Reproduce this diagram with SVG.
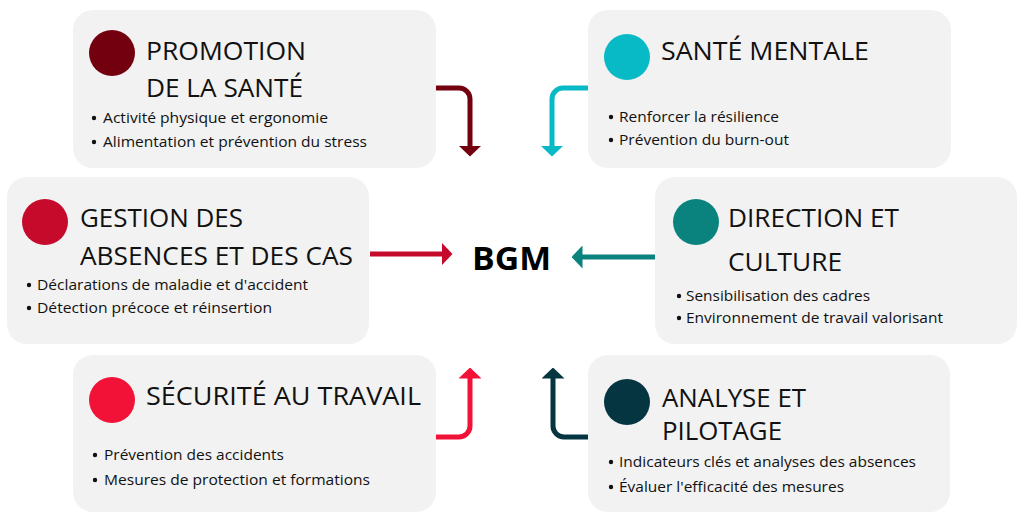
<svg xmlns="http://www.w3.org/2000/svg" width="1024" height="522" viewBox="0 0 1024 522">
<style>
.box{fill:#f2f2f2}
.t{font-family:"Open Sans","Liberation Sans",sans-serif;font-size:25px;fill:#111}
.b{font-family:"Open Sans","Liberation Sans",sans-serif;font-size:14.5px;fill:#111}
.bgm{font-family:"Open Sans","Liberation Sans",sans-serif;font-size:32px;font-weight:bold;fill:#000}
.dot{fill:#111}
.c{fill:none;stroke-width:5}
</style>
<defs>
<marker id="m1" viewBox="0 0 11 23" refX="0.5" refY="11.5" markerWidth="11" markerHeight="23" markerUnits="userSpaceOnUse" orient="auto"><path d="M0,0 L11,11.5 L0,23 Z" fill="#73000f"/></marker>
<marker id="m2" viewBox="0 0 11 23" refX="0.5" refY="11.5" markerWidth="11" markerHeight="23" markerUnits="userSpaceOnUse" orient="auto"><path d="M0,0 L11,11.5 L0,23 Z" fill="#08b9c6"/></marker>
<marker id="m3" viewBox="0 0 11 23" refX="0.5" refY="11.5" markerWidth="11" markerHeight="23" markerUnits="userSpaceOnUse" orient="auto"><path d="M0,0 L11,11.5 L0,23 Z" fill="#c60a2c"/></marker>
<marker id="m4" viewBox="0 0 11 23" refX="0.5" refY="11.5" markerWidth="11" markerHeight="23" markerUnits="userSpaceOnUse" orient="auto"><path d="M0,0 L11,11.5 L0,23 Z" fill="#0a837f"/></marker>
<marker id="m5" viewBox="0 0 11 23" refX="0.5" refY="11.5" markerWidth="11" markerHeight="23" markerUnits="userSpaceOnUse" orient="auto"><path d="M0,0 L11,11.5 L0,23 Z" fill="#f31237"/></marker>
<marker id="m6" viewBox="0 0 11 23" refX="0.5" refY="11.5" markerWidth="11" markerHeight="23" markerUnits="userSpaceOnUse" orient="auto"><path d="M0,0 L11,11.5 L0,23 Z" fill="#053540"/></marker>
</defs>
<rect width="1024" height="522" fill="#ffffff"/>

<g id="promotion">
<rect class="box" x="73" y="10" width="363" height="158" rx="20"/>
<circle cx="112" cy="53" r="23" fill="#73000f"/>
<text class="t" x="146" y="60" textLength="160" lengthAdjust="spacingAndGlyphs">PROMOTION</text>
<text class="t" x="146" y="97" textLength="157" lengthAdjust="spacingAndGlyphs">DE LA SANTÉ</text>
<circle class="dot" cx="94" cy="118" r="2.2"/>
<text class="b" x="103" y="123" textLength="225" lengthAdjust="spacingAndGlyphs">Activité physique et ergonomie</text>
<circle class="dot" cx="94" cy="142" r="2.2"/>
<text class="b" x="103" y="147" textLength="264" lengthAdjust="spacingAndGlyphs">Alimentation et prévention du stress</text>
</g>

<g id="sante-mentale">
<rect class="box" x="588" y="10" width="363" height="158" rx="20"/>
<circle cx="627" cy="57" r="23" fill="#08b9c6"/>
<text class="t" x="661" y="60" textLength="208" lengthAdjust="spacingAndGlyphs">SANTÉ MENTALE</text>
<circle class="dot" cx="611" cy="117" r="2.2"/>
<text class="b" x="619" y="122" textLength="160" lengthAdjust="spacingAndGlyphs">Renforcer la résilience</text>
<circle class="dot" cx="611" cy="140" r="2.2"/>
<text class="b" x="619" y="145" textLength="170" lengthAdjust="spacingAndGlyphs">Prévention du burn-out</text>
</g>

<g id="gestion">
<rect class="box" x="7" y="177" width="362" height="167" rx="20"/>
<circle cx="45" cy="222" r="23" fill="#c60a2c"/>
<text class="t" x="80" y="227" textLength="163" lengthAdjust="spacingAndGlyphs">GESTION DES</text>
<text class="t" x="80" y="265" textLength="273" lengthAdjust="spacingAndGlyphs">ABSENCES ET DES CAS</text>
<circle class="dot" cx="29" cy="285" r="2.2"/>
<text class="b" x="37" y="290" textLength="271" lengthAdjust="spacingAndGlyphs">Déclarations de maladie et d'accident</text>
<circle class="dot" cx="29" cy="308" r="2.2"/>
<text class="b" x="37" y="313" textLength="235" lengthAdjust="spacingAndGlyphs">Détection précoce et réinsertion</text>
</g>

<g id="direction">
<rect class="box" x="655" y="177" width="362" height="167" rx="20"/>
<circle cx="696" cy="222" r="23" fill="#0a837f"/>
<text class="t" x="728" y="227" textLength="171" lengthAdjust="spacingAndGlyphs">DIRECTION ET</text>
<text class="t" x="728" y="271" textLength="114" lengthAdjust="spacingAndGlyphs">CULTURE</text>
<circle class="dot" cx="679" cy="296" r="2.2"/>
<text class="b" x="686" y="301" textLength="184" lengthAdjust="spacingAndGlyphs">Sensibilisation des cadres</text>
<circle class="dot" cx="679" cy="318" r="2.2"/>
<text class="b" x="686" y="323" textLength="257" lengthAdjust="spacingAndGlyphs">Environnement de travail valorisant</text>
</g>

<g id="securite">
<rect class="box" x="73" y="355" width="363" height="157" rx="20"/>
<circle cx="112" cy="400" r="23" fill="#f31237"/>
<text class="t" x="146" y="405" textLength="275" lengthAdjust="spacingAndGlyphs">SÉCURITÉ AU TRAVAIL</text>
<circle class="dot" cx="95" cy="455" r="2.2"/>
<text class="b" x="104" y="460" textLength="180" lengthAdjust="spacingAndGlyphs">Prévention des accidents</text>
<circle class="dot" cx="95" cy="480" r="2.2"/>
<text class="b" x="104" y="485" textLength="266" lengthAdjust="spacingAndGlyphs">Mesures de protection et formations</text>
</g>

<g id="analyse">
<rect class="box" x="588" y="355" width="362" height="157" rx="20"/>
<circle cx="627" cy="402" r="23" fill="#053540"/>
<text class="t" x="662" y="407" textLength="144" lengthAdjust="spacingAndGlyphs">ANALYSE ET</text>
<text class="t" x="662" y="440" textLength="120" lengthAdjust="spacingAndGlyphs">PILOTAGE</text>
<circle class="dot" cx="611" cy="462" r="2.2"/>
<text class="b" x="619" y="467" textLength="297" lengthAdjust="spacingAndGlyphs">Indicateurs clés et analyses des absences</text>
<circle class="dot" cx="611" cy="487" r="2.2"/>
<text class="b" x="619" y="492" textLength="225" lengthAdjust="spacingAndGlyphs">Évaluer l'efficacité des mesures</text>
</g>

<g id="bgm">
<text class="bgm" x="472" y="270" textLength="79" lengthAdjust="spacingAndGlyphs">BGM</text>
</g>

<g id="connectors">
<path class="c" stroke="#73000f" d="M436,88 H459 A11,11 0 0 1 470,99 V146" marker-end="url(#m1)"/>
<path class="c" stroke="#08b9c6" d="M588,88 H563 A11,11 0 0 0 552,99 V146" marker-end="url(#m2)"/>
<path class="c" stroke="#c60a2c" d="M370,254 H442" marker-end="url(#m3)"/>
<path class="c" stroke="#0a837f" d="M655,257 H582" marker-end="url(#m4)"/>
<path class="c" stroke="#f31237" d="M436,437 H459 A11,11 0 0 0 470,426 V378" marker-end="url(#m5)"/>
<path class="c" stroke="#053540" d="M588,437 H564 A11,11 0 0 1 553,426 V378" marker-end="url(#m6)"/>
</g>
</svg>
